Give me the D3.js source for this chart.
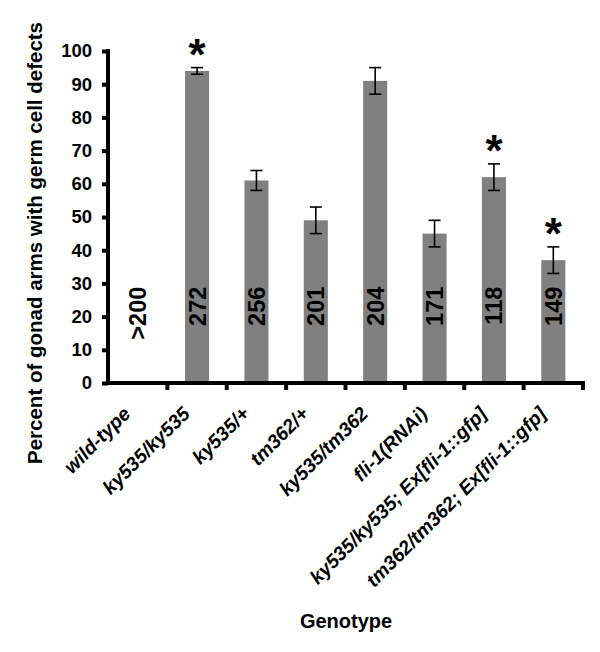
<!DOCTYPE html>
<html>
<head>
<meta charset="utf-8">
<script src="https://cdn.jsdelivr.net/npm/d3@7"></script>
<style>
  html, body { margin: 0; padding: 0; background: #fff; }
  svg { display: block; font-family: "Liberation Sans", Arial, sans-serif; }
</style>
</head>
<body>
<svg id="chart" width="600" height="652"></svg>
<script>
const categories = ["wild-type", "ky535/ky535", "ky535/+", "tm362/+", "ky535/tm362", "fli-1(RNAi)", "ky535/ky535; Ex[fli-1::gfp]", "tm362/tm362; Ex[fli-1::gfp]"];
const values = [0, 94, 61, 49, 91, 45, 62, 37];
const errors = [0, 1, 3, 4, 4, 4, 4, 4];
const counts = [">200", "272", "256", "201", "204", "171", "118", "149"];
const significant = [false, true, false, false, false, false, true, true];
const yTicks = [0, 10, 20, 30, 40, 50, 60, 70, 80, 90, 100];
const yTitle = "Percent of gonad arms with germ cell defects";
const xTitle = "Genotype";

const svg = d3.select("#chart");
const x = d3.scaleBand().domain(categories).range([108, 583]).paddingInner(0).paddingOuter(0);
const y = d3.scaleLinear().domain([0, 100]).range([383, 51]);

const data = categories.map((c, i) => ({c, v: values[i], e: errors[i], n: counts[i], s: significant[i]}));
const barW = x.bandwidth() * 0.405;

// bars
svg.append("g").selectAll("rect").data(data.filter(d => d.v > 0)).join("rect")
  .attr("x", d => x(d.c) + x.bandwidth() / 2 - barW / 2)
  .attr("y", d => y(d.v))
  .attr("width", barW)
  .attr("height", d => y(0) - y(d.v))
  .attr("fill", "#808080");

// error bars
const eg = svg.append("g").attr("stroke", "#000").attr("stroke-width", 1.6);
data.filter(d => d.e > 0).forEach(d => {
  const cx = x(d.c) + x.bandwidth() / 2;
  eg.append("line").attr("x1", cx).attr("x2", cx).attr("y1", y(d.v + d.e)).attr("y2", y(d.v - d.e));
  eg.append("line").attr("x1", cx - 6).attr("x2", cx + 6).attr("y1", y(d.v + d.e)).attr("y2", y(d.v + d.e));
  eg.append("line").attr("x1", cx - 6).attr("x2", cx + 6).attr("y1", y(d.v - d.e)).attr("y2", y(d.v - d.e));
});

// significance stars
svg.append("g").selectAll("text").data(data.filter(d => d.s)).join("text")
  .attr("x", d => x(d.c) + x.bandwidth() / 2)
  .attr("y", d => y(d.v + d.e) + 2)
  .attr("text-anchor", "middle")
  .attr("font-size", 44)
  .attr("font-weight", "bold")
  .text("*");

// counts
svg.append("g").selectAll("text").data(data).join("text")
  .attr("transform", d => `translate(${x(d.c) + x.bandwidth() / 2},${y(29)}) rotate(-90)`)
  .attr("text-anchor", "end")
  .attr("dy", "0.36em")
  .attr("font-size", 23.5)
  .attr("font-weight", "bold")
  .text(d => d.n);

// y axis
const yAxis = svg.append("g").attr("transform", "translate(108,0)")
  .call(d3.axisLeft(y).tickValues(yTicks).tickSize(6).tickPadding(10));
yAxis.select(".domain").attr("stroke-width", 4).attr("d", `M0,${y(100) - 2}V${y(0)}`);
yAxis.selectAll(".tick line").attr("stroke-width", 4);
yAxis.selectAll(".tick text").attr("font-size", 18.5).attr("font-weight", "bold")
  .attr("font-family", "Liberation Sans, Arial, sans-serif").attr("fill", "#000");

// x axis
const xAxis = svg.append("g").attr("transform", `translate(0,${y(0)})`)
  .call(d3.axisBottom(x).tickSize(0).tickFormat(""));
xAxis.select(".domain").attr("stroke-width", 4).attr("d", `M106,0H${583 + 2}`);
xAxis.selectAll(".tick").remove();
const bounds = categories.map(c => x(c) + x.bandwidth());
xAxis.selectAll("line.sep").data(bounds).join("line").attr("class", "sep")
  .attr("x1", d => d).attr("x2", d => d).attr("y1", 0).attr("y2", 7)
  .attr("stroke", "#000").attr("stroke-width", 4);

// x labels
svg.append("g").selectAll("text").data(categories).join("text")
  .attr("transform", c => `translate(${x(c) + x.bandwidth() / 2 - 6},${y(0) + 32}) rotate(-45)`)
  .attr("text-anchor", "end")
  .attr("font-size", 19.5)
  .attr("font-weight", "bold")
  .attr("font-style", "italic")
  .text(c => c);

// axis titles
svg.append("text")
  .attr("transform", "translate(42,243) rotate(-90)")
  .attr("text-anchor", "middle")
  .attr("font-size", 20.5)
  .attr("font-weight", "bold")
  .text(yTitle);

svg.append("text")
  .attr("x", 346).attr("y", 628)
  .attr("text-anchor", "middle")
  .attr("font-size", 20)
  .attr("font-weight", "bold")
  .text(xTitle);
</script>
</body>
</html>
